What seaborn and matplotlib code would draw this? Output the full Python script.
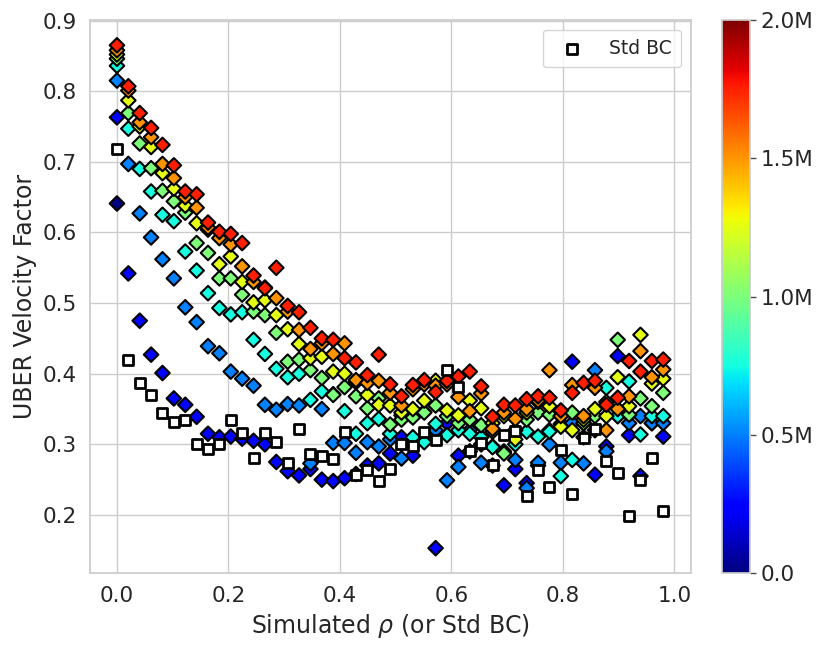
"""
plot.py — UBER velocity factor vs simulated rho, colored by sample size.

Each colour level is one series of diamonds; Std BC values are drawn as
open squares on top. Output: out.png (830x650).
"""
import matplotlib
import matplotlib.pyplot as plt
import numpy as np
import pandas as pd
import seaborn as sns
from matplotlib.colors import Normalize
from matplotlib.cm import ScalarMappable
from matplotlib.ticker import FuncFormatter


# rho grid: 49 simulated values between 0 and 0.98
RHO = np.linspace(0, 0.98, 49)

N_LEVELS = [0.0, 0.25e6, 0.5e6, 0.75e6, 1.0e6, 1.25e6, 1.5e6, 1.75e6]

VF_000 = [0.641] + [np.nan] * 48

VF_025 = [0.763, 0.542, 0.475, 0.427, 0.401, 0.365, 0.356, 0.339, 0.315, 0.310,
          0.311, 0.308, 0.305, 0.300, 0.275, 0.262, 0.256, 0.265, 0.250, 0.248,
          0.252, 0.258, 0.270, 0.273, 0.287, 0.310, 0.284, 0.346, 0.153, 0.330,
          0.284, 0.290, 0.300, 0.270, 0.242, 0.265, 0.245, 0.270, 0.320, 0.329,
          0.417, 0.310, 0.257, 0.297, 0.425, 0.313, 0.255, 0.330, 0.311]

VF_050 = [0.815, 0.697, 0.627, 0.593, 0.562, 0.535, 0.494, 0.473, 0.439, 0.429,
          0.403, 0.393, 0.383, 0.356, 0.349, 0.357, 0.355, 0.273, 0.350, 0.302,
          0.302, 0.288, 0.303, 0.297, 0.307, 0.280, 0.300, 0.310, 0.320, 0.249,
          0.268, 0.320, 0.274, 0.297, 0.290, 0.278, 0.238, 0.274, 0.300, 0.274,
          0.330, 0.273, 0.405, 0.290, 0.340, 0.330, 0.340, 0.330, 0.330]

VF_075 = [0.836, 0.747, 0.690, 0.658, 0.625, 0.616, 0.573, 0.546, 0.514, 0.493,
          0.484, 0.487, 0.448, 0.428, 0.407, 0.395, 0.400, 0.363, 0.375, 0.371,
          0.347, 0.315, 0.330, 0.336, 0.315, 0.341, 0.310, 0.303, 0.329, 0.313,
          0.320, 0.315, 0.310, 0.296, 0.288, 0.300, 0.318, 0.311, 0.318, 0.255,
          0.278, 0.330, 0.320, 0.380, 0.340, 0.389, 0.314, 0.340, 0.340]

VF_100 = [0.846, 0.769, 0.726, 0.691, 0.659, 0.644, 0.628, 0.585, 0.571, 0.535,
          0.535, 0.512, 0.488, 0.483, 0.458, 0.417, 0.420, 0.405, 0.394, 0.370,
          0.381, 0.368, 0.351, 0.365, 0.328, 0.335, 0.338, 0.345, 0.355, 0.340,
          0.330, 0.335, 0.327, 0.318, 0.287, 0.320, 0.335, 0.345, 0.342, 0.340,
          0.345, 0.330, 0.340, 0.360, 0.448, 0.342, 0.365, 0.354, 0.373]

VF_125 = [0.852, 0.787, 0.750, 0.721, 0.684, 0.662, 0.638, 0.613, 0.604, 0.555,
          0.566, 0.530, 0.501, 0.504, 0.483, 0.463, 0.442, 0.422, 0.424, 0.403,
          0.400, 0.388, 0.370, 0.356, 0.355, 0.345, 0.350, 0.362, 0.390, 0.348,
          0.341, 0.362, 0.351, 0.330, 0.340, 0.307, 0.345, 0.360, 0.354, 0.325,
          0.320, 0.335, 0.350, 0.340, 0.395, 0.354, 0.455, 0.386, 0.393]

VF_150 = [0.858, 0.801, 0.756, 0.735, 0.697, 0.677, 0.650, 0.635, 0.607, 0.592,
          0.583, 0.552, 0.530, 0.522, 0.507, 0.488, 0.462, 0.435, 0.443, 0.428,
          0.443, 0.391, 0.387, 0.390, 0.373, 0.355, 0.378, 0.385, 0.383, 0.385,
          0.367, 0.347, 0.372, 0.322, 0.345, 0.336, 0.350, 0.362, 0.405, 0.340,
          0.384, 0.340, 0.380, 0.320, 0.350, 0.368, 0.432, 0.395, 0.406]

VF_175 = [0.865, 0.807, 0.769, 0.748, 0.724, 0.695, 0.658, 0.654, 0.614, 0.601,
          0.598, 0.585, 0.539, 0.521, 0.550, 0.496, 0.487, 0.465, 0.450, 0.448,
          0.422, 0.416, 0.398, 0.427, 0.385, 0.368, 0.384, 0.391, 0.374, 0.390,
          0.396, 0.403, 0.382, 0.339, 0.356, 0.355, 0.364, 0.368, 0.366, 0.348,
          0.373, 0.387, 0.390, 0.356, 0.366, 0.418, 0.403, 0.418, 0.420]

STD_BC = [0.718, 0.419, 0.387, 0.370, 0.345, 0.331, 0.334, 0.300, 0.294, 0.300,
          0.335, 0.316, 0.280, 0.316, 0.303, 0.274, 0.322, 0.287, 0.283, 0.279,
          0.318, 0.257, 0.263, 0.248, 0.265, 0.300, 0.297, 0.318, 0.306, 0.405,
          0.381, 0.291, 0.302, 0.271, 0.313, 0.319, 0.227, 0.263, 0.239, 0.292,
          0.230, 0.309, 0.322, 0.276, 0.259, 0.199, 0.249, 0.280, 0.206]

SERIES = [VF_000, VF_025, VF_050, VF_075, VF_100, VF_125, VF_150, VF_175]


def build_frame() -> pd.DataFrame:
    parts = []
    for n, vals in zip(N_LEVELS, SERIES):
        parts.append(pd.DataFrame({"rho": RHO, "vf": vals, "n": n}))
    return pd.concat(parts, ignore_index=True).dropna()


def main() -> None:
    sns.set_theme(style="whitegrid")
    plt.rcParams["font.family"] = ["DejaVu Sans"]

    df = build_frame()
    bc = pd.DataFrame({"rho": RHO, "vf": STD_BC})

    fig = plt.figure(figsize=(8.3, 6.5), dpi=100)
    ax = fig.add_axes([0.108, 0.118, 0.724, 0.851])
    cax = fig.add_axes([0.870, 0.118, 0.034, 0.851])

    jet = matplotlib.colormaps["jet"]
    norm = Normalize(vmin=0, vmax=2e6)
    sns.scatterplot(
        data=df, x="rho", y="vf", hue="n", palette=jet, hue_norm=norm,
        marker="D", s=55, edgecolor="black", linewidth=1.5,
        legend=False, ax=ax, zorder=3,
    )
    sns.scatterplot(
        data=bc, x="rho", y="vf", marker="s", s=60,
        color="white", edgecolor="black", linewidth=2,
        label="Std BC", ax=ax, zorder=4,
    )

    ax.set_xlabel(r"Simulated $\rho$ (or Std BC)", fontsize=17)
    ax.set_ylabel("UBER Velocity Factor", fontsize=17)
    ax.tick_params(labelsize=15.5)
    ax.legend(loc="upper right", fontsize=13.5, frameon=True,
              handletextpad=1.0, borderpad=0.5)

    sm = ScalarMappable(norm=norm, cmap=jet)
    cbar = fig.colorbar(sm, cax=cax)
    cbar.set_ticks([0, 0.5e6, 1.0e6, 1.5e6, 2.0e6])
    cbar.ax.yaxis.set_major_formatter(
        FuncFormatter(lambda v, _: "0.0" if v == 0 else f"{v / 1e6:.1f}M"))
    cbar.ax.tick_params(right=True, length=4, width=1, color="0.3",
                        labelsize=15.5)

    fig.savefig("out.png", dpi=100)
    plt.close(fig)


if __name__ == "__main__":
    main()
